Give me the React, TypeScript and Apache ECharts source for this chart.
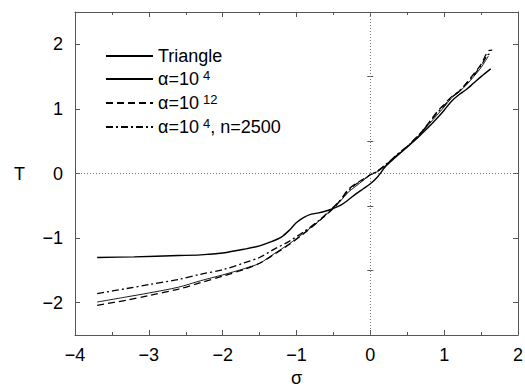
import React, { useEffect, useRef } from "react";
import * as echarts from "echarts";

// Triangle
const triX = [-3.7, -3.2, -2.6, -2.3, -2.0, -1.7, -1.5, -1.35, -1.2, -1.09, -1.0, -0.9, -0.8, -0.7, -0.6, -0.5, -0.4, -0.3, -0.2, -0.1, 0, 0.1, 0.2, 0.3, 0.4, 0.5, 0.6, 0.7, 0.8, 0.9, 1.0, 1.1, 1.2, 1.3, 1.4, 1.5, 1.63];
const triY = [-1.3, -1.29, -1.27, -1.26, -1.23, -1.17, -1.12, -1.06, -0.98, -0.87, -0.76, -0.68, -0.63, -0.61, -0.58, -0.54, -0.49, -0.41, -0.32, -0.24, -0.16, -0.05, 0.1, 0.21, 0.31, 0.41, 0.51, 0.62, 0.73, 0.85, 0.98, 1.12, 1.22, 1.3, 1.4, 1.5, 1.62];

// alpha = 10^4
const a4X = [-3.7, -3.3, -3.0, -2.6, -2.3, -2.0, -1.7, -1.5, -1.3, -1.1, -0.9, -0.7, -0.5, -0.4, -0.3, -0.2, -0.1, 0, 0.1, 0.2, 0.3, 0.4, 0.5, 0.6, 0.7, 0.8, 0.9, 1.0, 1.1, 1.2, 1.3, 1.4, 1.5, 1.6];
const a4Y = [-1.99, -1.91, -1.85, -1.76, -1.66, -1.57, -1.47, -1.39, -1.24, -1.09, -0.92, -0.74, -0.53, -0.42, -0.29, -0.2, -0.11, -0.02, 0.03, 0.12, 0.23, 0.32, 0.41, 0.52, 0.64, 0.77, 0.9, 1.03, 1.17, 1.26, 1.37, 1.5, 1.64, 1.82];

// alpha = 10^12
const a12X = [-3.7, -3.3, -3.0, -2.6, -2.3, -2.0, -1.7, -1.5, -1.3, -1.1, -0.9, -0.7, -0.5, -0.4, -0.3, -0.2, -0.1, 0, 0.1, 0.2, 0.3, 0.4, 0.5, 0.6, 0.7, 0.8, 0.9, 1.0, 1.1, 1.2, 1.3, 1.4, 1.5, 1.6, 1.65];
const a12Y = [-2.04, -1.96, -1.89, -1.79, -1.69, -1.59, -1.48, -1.39, -1.25, -1.1, -0.93, -0.74, -0.54, -0.4, -0.25, -0.16, -0.09, -0.02, 0.04, 0.12, 0.22, 0.32, 0.42, 0.53, 0.65, 0.8, 0.95, 1.07, 1.19, 1.27, 1.4, 1.54, 1.69, 1.9, 1.91];

// alpha = 10^4, n = 2500
const nX = [-3.7, -3.3, -3.0, -2.6, -2.3, -2.0, -1.7, -1.5, -1.3, -1.1, -0.9, -0.7, -0.5, -0.4, -0.3, -0.2, -0.1, 0, 0.1, 0.2, 0.3, 0.4, 0.5, 0.6, 0.7, 0.8, 0.9, 1.0, 1.1, 1.2, 1.3, 1.4, 1.5, 1.59, 1.63];
const nY = [-1.86, -1.78, -1.72, -1.64, -1.56, -1.49, -1.38, -1.3, -1.17, -1.05, -0.9, -0.73, -0.52, -0.41, -0.27, -0.17, -0.1, -0.02, 0.04, 0.13, 0.23, 0.33, 0.42, 0.53, 0.65, 0.79, 0.93, 1.05, 1.18, 1.27, 1.39, 1.52, 1.67, 1.84, 1.85];

const seriesNames = ["Triangle", "α=10^4", "α=10^12", "α=10^4, n=2500"];
const legendLabels = [
  "{b|Triangle}",
  "{b|α=10}{s|4}",
  "{b|α=10}{s|12}",
  "{b|α=10}{s|4}{b|, n=2500}",
];
const xTicks = [-4, -3, -2, -1, 0, 1, 2];
const yTicks = [-2, -1, 0, 1, 2];
const yMinorTicks = [-2.5, -1.5, -0.5, 0.5, 1.5, 2.5];
const yRange = [-2.5, 2.5];

const FONT = "Liberation Sans";

function pairs(xs: number[], ys: number[]) {
  return xs.map((x, i) => [x, ys[i]]);
}

export default function App() {
  const ref = useRef<HTMLDivElement>(null);
  useEffect(() => {
    document.body.style.margin = "0";
    const chart = echarts.init(ref.current!, null, { renderer: "svg" });
    const axisColor = "#555";
    const fmt = (v: number) => String(v).replace("-", "\u2212");
    const axisLine = { show: true, onZero: false, lineStyle: { color: axisColor, width: 1 } };
    const xBase = {
      type: "value" as const,
      min: xTicks[0],
      max: xTicks[xTicks.length - 1],
      interval: 1,
      axisLine,
      axisTick: { show: true, inside: true, length: 5, lineStyle: { color: axisColor } },
      minorTick: { show: true, splitNumber: 2, length: 3, lineStyle: { color: axisColor } },
      splitLine: { show: false },
    };
    const yBase = (position: string, major: boolean) => ({
      type: "value" as const,
      min: yRange[0],
      max: yRange[1],
      interval: 0.5,
      position,
      offset: 0,
      axisLine: major ? axisLine : { show: false },
      axisTick: {
        show: true,
        inside: true,
        length: major ? 5 : 3,
        customValues: major ? yTicks : yMinorTicks,
        lineStyle: { color: axisColor },
      },
      axisLabel: { show: false },
      splitLine: { show: false },
    });
    const lineSeries = (name: string, data: number[][], type: any, width: number, extra: any = {}) => ({
      name,
      type: "line",
      data,
      showSymbol: false,
      symbol: "none",
      smooth: 0.3,
      lineStyle: { color: "#000", width, type },
      itemStyle: { color: "#000" },
      ...extra,
    });
    chart.setOption({
      animation: false,
      grid: { left: 75, right: 7, top: 12, bottom: 52, outerBoundsMode: "none", containLabel: false },
      legend: {
        orient: "vertical",
        left: 100,
        top: 42,
        itemWidth: 47,
        itemHeight: 14,
        itemGap: 4,
        data: seriesNames,
        itemStyle: { opacity: 0 },
        formatter: (name: string) => legendLabels[seriesNames.indexOf(name)],
        textStyle: {
          fontFamily: FONT,
          color: "#000",
          rich: {
            b: { fontSize: 18, fontFamily: FONT, color: "#000", lineHeight: 20 },
            s: { fontSize: 13, fontFamily: FONT, color: "#000", verticalAlign: "top", padding: [0, 0, 7, 4], lineHeight: 13 },
          },
        },
      },
      xAxis: [
        {
          ...xBase,
          position: "bottom",
          name: "σ",
          nameLocation: "middle",
          nameGap: 25,
          nameTextStyle: { fontFamily: FONT, fontSize: 18, color: "#000" },
          axisLabel: { fontFamily: FONT, fontSize: 18, color: "#000", margin: 11, formatter: fmt },
        },
        {
          ...xBase,
          position: "top",
          axisLabel: { show: false },
        },
      ],
      yAxis: [
        {
          ...yBase("left", true),
          name: "T",
          nameLocation: "middle",
          nameRotate: 0,
          nameGap: 50,
          nameTextStyle: { fontFamily: FONT, fontSize: 18, color: "#000" },
          axisLabel: {
            show: true,
            customValues: yTicks,
            fontFamily: FONT,
            fontSize: 18,
            color: "#000",
            margin: 12,
            formatter: fmt,
          },
        },
        yBase("right", true),
        yBase("left", false),
        yBase("right", false),
      ],
      series: [
        lineSeries(seriesNames[0], pairs(triX, triY), "solid", 1.4, {
          markLine: {
            silent: true,
            symbol: ["none", "none"],
            label: { show: false },
            lineStyle: { color: "#777", type: [1, 2], width: 1 },
            data: [{ xAxis: 0 }, { yAxis: 0 }],
          },
        }),
        lineSeries(seriesNames[1], pairs(a4X, a4Y), "solid", 0.9),
        lineSeries(seriesNames[2], pairs(a12X, a12Y), [7, 4], 1.3),
        lineSeries(seriesNames[3], pairs(nX, nY), [7, 3, 2, 3], 1.3),
      ],
    });
    return () => chart.dispose();
  }, []);
  return <div ref={ref} style={{ width: 525, height: 387 }} />;
}
